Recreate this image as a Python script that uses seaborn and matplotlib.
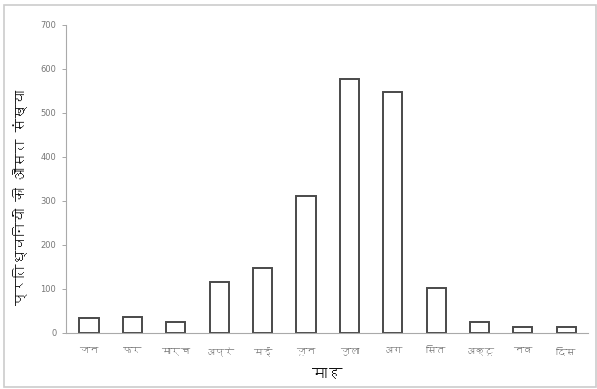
import matplotlib
matplotlib.use("Agg")
import matplotlib.pyplot as plt
import seaborn as sns
import pandas as pd
from matplotlib import font_manager
from matplotlib.ft2font import FT2Font
from matplotlib.patches import Rectangle

months = ["जन", "फर", "मार्च", "अप्रे", "मई", "जून", "जुला", "अग", "सित", "अक्टू", "नव", "दिस"]
values = [35, 37, 25, 116, 148, 311, 576, 547, 102, 26, 14, 13]
yticks = [0, 100, 200, 300, 400, 500, 600, 700]
xlabel = "माह"
ylabel = "प्रतिध्वनियों की औसत संख्या"


def find_deva():
    seen = set()
    for f in font_manager.fontManager.ttflist:
        if f.fname in seen:
            continue
        seen.add(f.fname)
        try:
            cm = FT2Font(f.fname).get_charmap()
            if 0x0915 in cm and 0x093F in cm:
                return f.name
        except Exception:
            pass
    return None


sns.set_theme(style="white")
deva = find_deva()
fams = ([deva] if deva else []) + ["DejaVu Sans"]
plt.rcParams["font.family"] = fams

df = pd.DataFrame({"month": months, "value": values})

fig = plt.figure(figsize=(5.97, 3.89), dpi=100)
ax = fig.add_axes([66 / 597, (389 - 333) / 389, (588 - 66) / 597, (333 - 24.7) / 389])

sns.barplot(data=df, x="month", y="value", color="white", edgecolor="#4a4a4a",
            linewidth=1.4, width=0.44, ax=ax, order=months)

ax.set_xlim(-0.53, 11.5)
ax.set_ylim(0, 700)
ax.set_yticks(yticks)
ax.set_yticklabels([str(v) for v in yticks], fontsize=6, color="#777777", family=["DejaVu Sans"])
ax.tick_params(axis="y", which="both", left=True, length=3, width=0.6, color="#999999", pad=4)
ax.tick_params(axis="x", which="both", bottom=False, pad=4)
for lab in ax.get_xticklabels():
    lab.set_fontsize(7)
    lab.set_color("#777777")

for s in ["top", "right"]:
    ax.spines[s].set_visible(False)
for s in ["left", "bottom"]:
    ax.spines[s].set_color("#aaaaaa")
    ax.spines[s].set_linewidth(0.8)

ax.set_xlabel(xlabel, fontsize=11, color="#111111")
ax.set_ylabel(ylabel, fontsize=10, color="#111111")
ax.xaxis.set_label_coords(0.5, -0.115)
ax.yaxis.set_label_coords(-0.075, 0.44)

fig.patches.append(Rectangle((4 / 597, 2 / 389), 592 / 597, 382 / 389, transform=fig.transFigure,
                             fill=False, edgecolor="#cccccc", linewidth=1.2))

fig.savefig("out.png", dpi=100, facecolor="white")
